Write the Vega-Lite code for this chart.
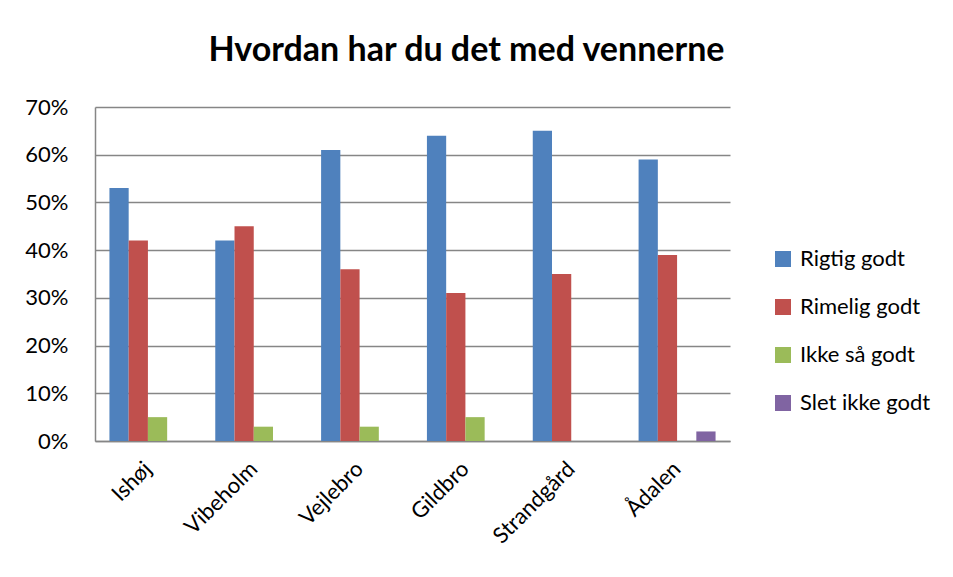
{
  "$schema": "https://vega.github.io/schema/vega-lite/v6.json",
  "width": 635,
  "height": 334,
  "autosize": {"type": "none"},
  "padding": {"left": 95, "top": 107, "right": 223, "bottom": 136},
  "background": "white",
  "title": {
    "text": "Hvordan har du det med vennerne",
    "font": "Lato",
    "fontSize": 34,
    "fontWeight": "bold",
    "color": "#000000",
    "anchor": "middle",
    "frame": "group",
    "dx": 54,
    "baseline": "alphabetic",
    "offset": 1
  },
  "data": {
    "values": [
      {"omraade": "Ishøj", "svar": "Rigtig godt", "andel": 0.53},
      {"omraade": "Ishøj", "svar": "Rimelig godt", "andel": 0.42},
      {"omraade": "Ishøj", "svar": "Ikke så godt", "andel": 0.05},
      {"omraade": "Vibeholm", "svar": "Rigtig godt", "andel": 0.42},
      {"omraade": "Vibeholm", "svar": "Rimelig godt", "andel": 0.45},
      {"omraade": "Vibeholm", "svar": "Ikke så godt", "andel": 0.03},
      {"omraade": "Vejlebro", "svar": "Rigtig godt", "andel": 0.61},
      {"omraade": "Vejlebro", "svar": "Rimelig godt", "andel": 0.36},
      {"omraade": "Vejlebro", "svar": "Ikke så godt", "andel": 0.03},
      {"omraade": "Gildbro", "svar": "Rigtig godt", "andel": 0.64},
      {"omraade": "Gildbro", "svar": "Rimelig godt", "andel": 0.31},
      {"omraade": "Gildbro", "svar": "Ikke så godt", "andel": 0.05},
      {"omraade": "Strandgård", "svar": "Rigtig godt", "andel": 0.65},
      {"omraade": "Strandgård", "svar": "Rimelig godt", "andel": 0.35},
      {"omraade": "Ådalen", "svar": "Rigtig godt", "andel": 0.59},
      {"omraade": "Ådalen", "svar": "Rimelig godt", "andel": 0.39},
      {"omraade": "Ådalen", "svar": "Slet ikke godt", "andel": 0.02}
    ]
  },
  "mark": {"type": "bar"},
  "encoding": {
    "x": {
      "field": "omraade",
      "type": "nominal",
      "sort": ["Ishøj", "Vibeholm", "Vejlebro", "Gildbro", "Strandgård", "Ådalen"],
      "scale": {"paddingInner": 0.2727, "paddingOuter": 0.1364},
      "axis": {
        "title": null,
        "labelAngle": -45,
        "labelAlign": "right",
        "labelBaseline": "middle",
        "labelPadding": 24,
        "labelFont": "Lato",
        "labelFontSize": 22,
        "labelColor": "#000000",
        "ticks": false,
        "domainColor": "#868686",
        "domainWidth": 1.5,
        "grid": false
      }
    },
    "xOffset": {
      "field": "svar",
      "type": "nominal",
      "scale": {"domain": ["Rigtig godt", "Rimelig godt", "Ikke så godt", "Slet ikke godt"], "paddingInner": 0, "paddingOuter": 0}
    },
    "y": {
      "field": "andel",
      "type": "quantitative",
      "scale": {"domain": [0, 0.7], "nice": false},
      "axis": {
        "title": null,
        "format": ".0%",
        "values": [0, 0.1, 0.2, 0.3, 0.4, 0.5, 0.6, 0.7],
        "labelFont": "Lato",
        "labelFontSize": 22,
        "labelColor": "#000000",
        "labelPadding": 27,
        "ticks": false,
        "domainColor": "#868686",
        "domainWidth": 1.5,
        "gridColor": "#868686",
        "gridWidth": 1.3
      }
    },
    "color": {
      "field": "svar",
      "type": "nominal",
      "scale": {
        "domain": ["Rigtig godt", "Rimelig godt", "Ikke så godt", "Slet ikke godt"],
        "range": ["#4F81BD", "#C0504D", "#9BBB59", "#8064A2"]
      },
      "legend": {
        "title": null,
        "orient": "none",
        "legendX": 677,
        "legendY": 141,
        "padding": 0,
        "symbolType": "square",
        "symbolSize": 256,
        "symbolStrokeWidth": 0,
        "symbolOpacity": 1,
        "labelFont": "Lato",
        "labelFontSize": 22,
        "labelColor": "#000000",
        "labelOffset": 6,
        "rowPadding": 26
      }
    }
  },
  "config": {
    "view": {"stroke": null}
  }
}
